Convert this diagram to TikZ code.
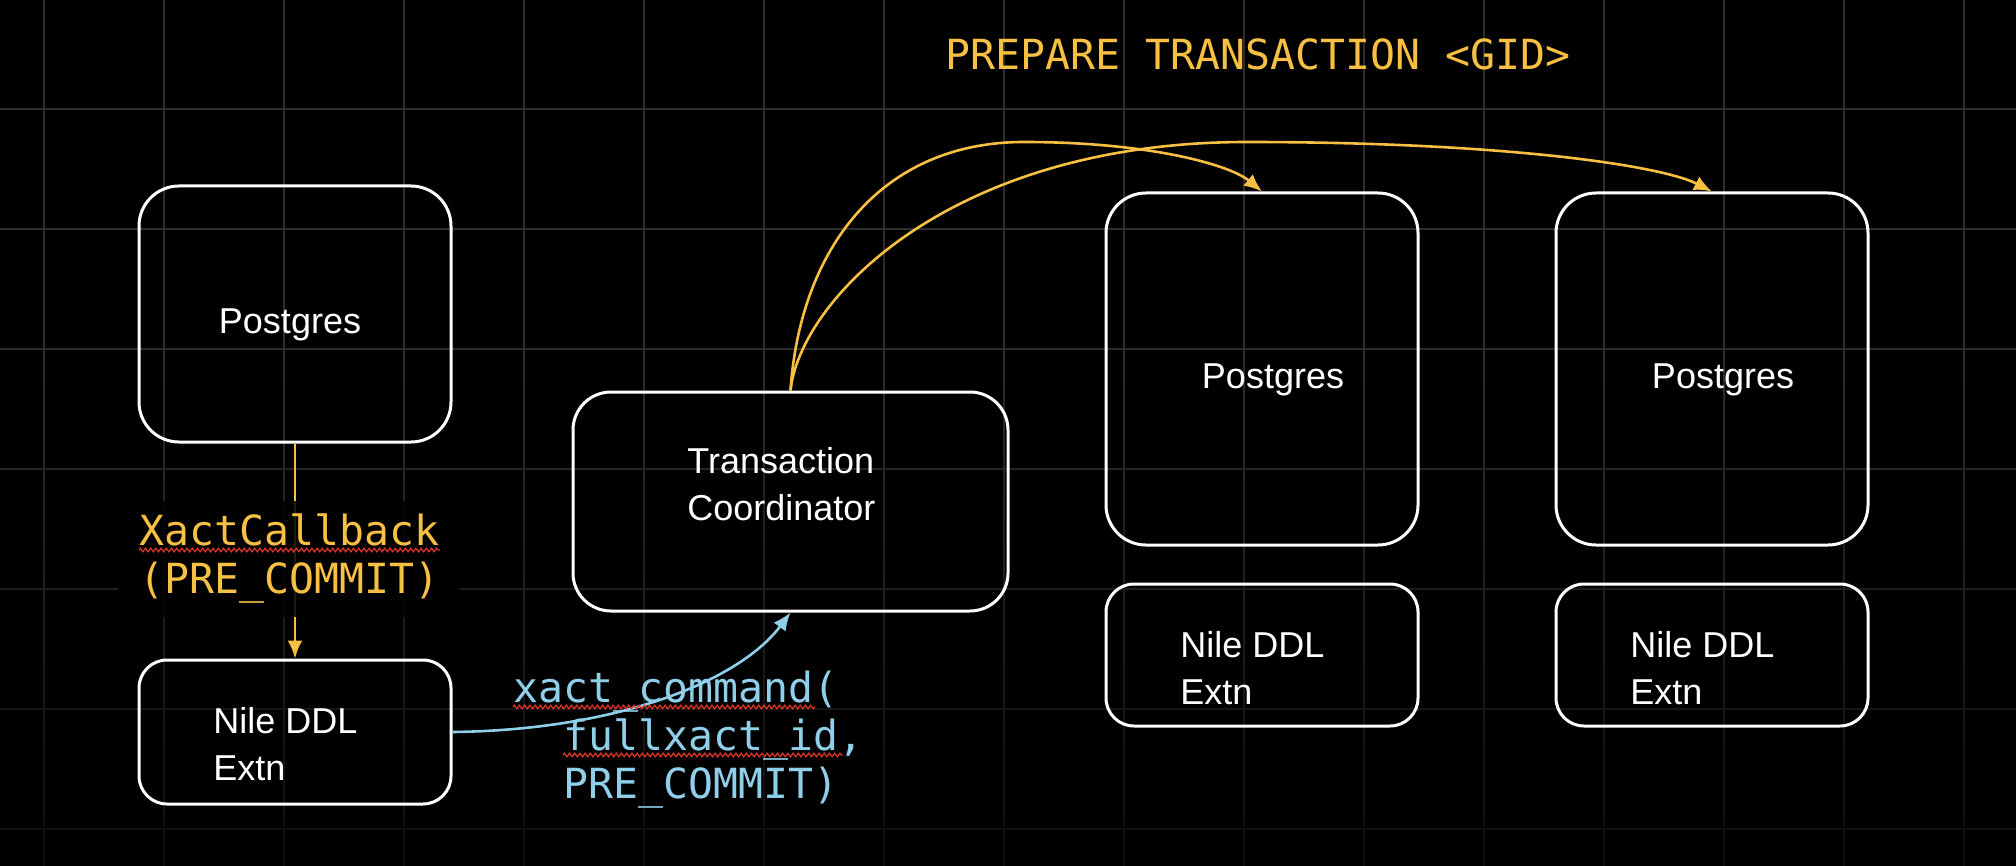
\documentclass[tikz,border=0pt]{standalone}
\usepackage{fontspec}
\setmainfont{Liberation Sans}
\newfontfamily\codefont{DejaVu Sans Mono}
\usetikzlibrary{arrows.meta,decorations.pathmorphing}
\definecolor{gold}{HTML}{F7C042}
\definecolor{sky}{HTML}{8FCFEA}
\definecolor{gridc}{HTML}{2D2D2D}
\definecolor{squig}{HTML}{E0352B}
\tikzset{
  bigbox/.style={draw=white, line width=1.5pt, rounded corners=20pt, minimum width=156pt, inner sep=0pt},
  extbox/.style={draw=white, line width=1.5pt, rounded corners=14pt, minimum width=156pt, inner sep=0pt},
  sanslbl/.style={text=white, inner sep=0pt, font=\fontsize{18pt}{23.5pt}\selectfont},
  codelbl/.style={inner sep=0pt, font=\codefont\fontsize{20.75pt}{24pt}\selectfont},
  goldarrow/.style={draw=gold, line width=1.3pt, -{Latex[length=9pt,width=7.5pt]}},
  skyarrow/.style={draw=sky, line width=1.3pt, -{Latex[length=9pt,width=7.5pt]}},
  squiggle/.style={draw=squig, line width=0.6pt, decorate, decoration={zigzag, segment length=2.6pt, amplitude=0.9pt}},
  gridline/.style={line width=0.95pt, line cap=butt},
}
\begin{document}
\begin{tikzpicture}[x=0.5pt,y=-0.5pt]
  % background and grid (fading out towards the bottom)
  \fill[black] (0,0) rectangle (2016,866);
  \useasboundingbox (0,0) rectangle (2016,866);
  \foreach \sy in {0,20,...,860} {
    \pgfmathsetmacro\gp{100-0.1369*max(\sy-340,0)}
    \foreach \gx in {44,164,...,1964}
      \draw[gridline, draw=gridc!\gp!black] (\gx,\sy) -- (\gx,\sy+20);
  }
  \foreach \gy in {109,229,...,829} {
    \pgfmathsetmacro\gp{100-0.1369*max(\gy-340,0)}
    \draw[gridline, draw=gridc!\gp!black] (0,\gy) -- (2016,\gy);
  }

  % boxes
  \node[bigbox, minimum height=128pt] (pg1) at (295,314) {};
  \node[extbox, minimum height=72pt] (ext1) at (295,732) {};
  \node[bigbox, rounded corners=19pt, minimum width=217.5pt, minimum height=109.5pt] (tc) at (790.5,501.5) {};
  \node[bigbox, minimum height=176pt] (pg2) at (1262,369) {};
  \node[bigbox, minimum height=176pt] (pg3) at (1712,369) {};
  \node[extbox, minimum height=71pt] (ext2) at (1262,655) {};
  \node[extbox, minimum height=71pt] (ext3) at (1712,655) {};

  % box texts
  \node[sanslbl, anchor=base] (pg1t) at (290,333) {Postgres};
  \node[sanslbl, anchor=base] (pg2t) at (1273,388) {Postgres};
  \node[sanslbl, anchor=base] (pg3t) at (1723,388) {Postgres};
  \node[sanslbl, anchor=base west] (tct) at (687,473) {\begin{tabular}[t]{@{}l@{}}Transaction\\Coordinator\end{tabular}};
  \node[sanslbl, anchor=base west] (ext1t) at (213,733) {\begin{tabular}[t]{@{}l@{}}Nile DDL\\Extn\end{tabular}};
  \node[sanslbl, anchor=base west] (ext2t) at (1180,657) {\begin{tabular}[t]{@{}l@{}}Nile DDL\\Extn\end{tabular}};
  \node[sanslbl, anchor=base west] (ext3t) at (1630,657) {\begin{tabular}[t]{@{}l@{}}Nile DDL\\Extn\end{tabular}};

  % connectors
  \draw[goldarrow] (pg1.south) -- (ext1.north);
  \draw[skyarrow] (ext1.east) .. controls (620,730) and (740,680) .. (tc.south);
  \coordinate (peakA) at (1024,142);
  \coordinate (peakB) at (1247,142);
  \draw[goldarrow] (tc.north) .. controls (800,250) and (880,142) .. (peakA)
                              .. controls (1150,142) and (1230,165) .. (pg2.north);
  \draw[goldarrow] (tc.north) .. controls (800,300) and (950,142) .. (peakB)
                              .. controls (1500,142) and (1660,165) .. (pg3.north);

  % code labels
  \node[codelbl, text=gold, anchor=base west] (title) at (945,70) {PREPARE TRANSACTION <GID>};
  \node[codelbl, text=gold, anchor=base west, fill=black, fill opacity=0.85, text opacity=1,
        inner xsep=10.5pt, inner ysep=5pt] (cb) at (118,545)
        {\begin{tabular}[t]{@{}l@{}}XactCallback\\(PRE\_COMMIT)\end{tabular}};
  \node[codelbl, text=sky, anchor=base west] (xc) at (513,702)
        {\begin{tabular}[t]{@{}l@{}}xact\_command(\\\phantom{xx}fullxact\_id,\\\phantom{xx}PRE\_COMMIT)\end{tabular}};

  % spell-check squiggles
  \draw[squiggle] (139,550) -- (440,550);
  \draw[squiggle] (513,707) -- (815,707);
  \draw[squiggle] (563,755) -- (843,755);
\end{tikzpicture}
\end{document}
